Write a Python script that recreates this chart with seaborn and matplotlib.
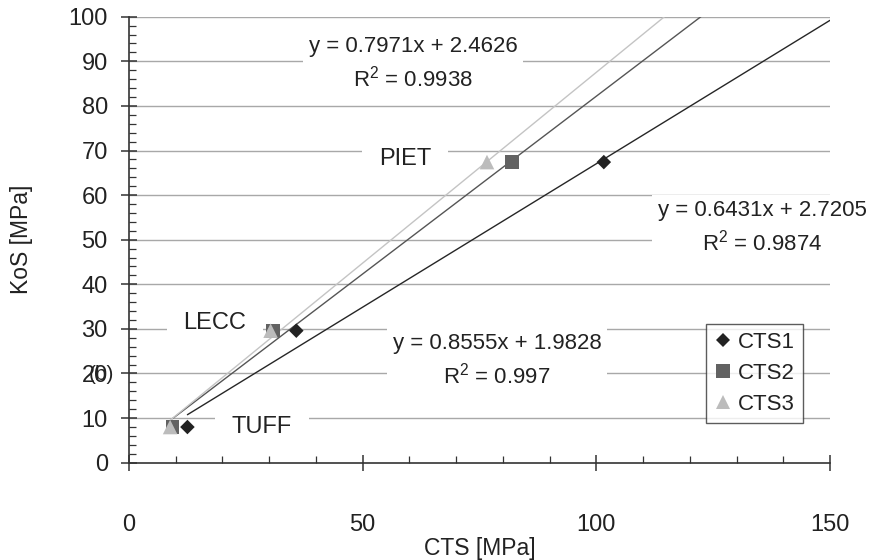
import numpy as np
import pandas as pd
import matplotlib
matplotlib.use("Agg")
import matplotlib.pyplot as plt
import seaborn as sns
from matplotlib.ticker import MultipleLocator
from matplotlib.lines import Line2D

# Rock types and their KoS values
rocks = ["TUFF", "LECC", "PIET"]
kos = [8.0, 29.6, 67.4]

# CTS measurements for each test series
series = ["CTS1", "CTS2", "CTS3"]
cts1 = [12.5, 35.8, 101.6]
cts2 = [9.3, 30.8, 82.0]
cts3 = [8.8, 30.3, 76.6]

# Linear trend coefficients
slopes = [0.6431, 0.7971, 0.8555]
intercepts = [2.7205, 2.4626, 1.9828]
r2 = [0.9874, 0.9938, 0.997]

xticks = [0, 50, 100, 150]
yticks = list(range(0, 101, 10))

marker_colors = {"CTS1": "#222222", "CTS2": "#626262", "CTS3": "#bcbcbc"}
line_colors = {"CTS1": "#262626", "CTS2": "#555555", "CTS3": "#c4c4c4"}
markers = {"CTS1": "D", "CTS2": "s", "CTS3": "^"}
msizes = {"CTS1": 55, "CTS2": 100, "CTS3": 110}

df = pd.DataFrame({
    "rock": rocks * 3,
    "KoS": kos * 3,
    "CTS": cts1 + cts2 + cts3,
    "series": [s for s in series for _ in rocks],
})

sns.set_theme(style="white")
plt.rcParams["font.family"] = ["Liberation Sans", "DejaVu Sans"]
plt.rcParams["mathtext.fontset"] = "custom"
plt.rcParams["mathtext.rm"] = "Liberation Sans"
plt.rcParams["mathtext.it"] = "Liberation Sans:italic"
TXT = "#222222"

fig = plt.figure(figsize=(8.8, 5.6), dpi=100)
W, H = 880, 560
ax = fig.add_axes([129 / W, 1 - 462.7 / H, (830 - 129) / W, (462.7 - 16.7) / H])


def fpos(px, py):
    """Pixel position (from top-left) to figure fraction."""
    return px / W, 1 - py / H


# horizontal gridlines
for yv in yticks[1:]:
    ax.axhline(yv, color="#a8a8a8", lw=1.0, zorder=0)

# trend lines, forecast forward to the chart edge
for s, a, b in zip(series, slopes, intercepts):
    xs0 = df.loc[df.series == s, "CTS"].min()
    tl = pd.DataFrame({"x": [xs0, 150.0]})
    tl["y"] = a * tl["x"] + b
    sns.lineplot(data=tl, x="x", y="y", ax=ax, color=line_colors[s], lw=1.0,
                 zorder=2, legend=False)

# data points
for s in series:
    sub = df[df.series == s]
    sns.scatterplot(data=sub, x="CTS", y="KoS", ax=ax, marker=markers[s],
                    color=marker_colors[s], s=msizes[s], edgecolor="none",
                    linewidth=0, zorder=3, legend=False, clip_on=False)

ax.set_xlim(0, 150)
ax.set_ylim(0, 100)
ax.set_xticks(xticks)
ax.set_yticks(yticks)
ax.xaxis.set_minor_locator(MultipleLocator(10))
ax.yaxis.set_minor_locator(MultipleLocator(2))

for side in ["top", "right"]:
    ax.spines[side].set_visible(False)
for side in ["left", "bottom"]:
    ax.spines[side].set_color("#333333")
    ax.spines[side].set_linewidth(1.2)

ax.tick_params(which="major", direction="inout", length=11.5, width=1.1,
               color="#333333", labelsize=17, labelcolor=TXT)
ax.tick_params(axis="y", which="major", pad=9.5)
ax.tick_params(axis="x", which="major", pad=31)
ax.tick_params(which="minor", direction="in", length=5, width=0.9,
               color="#333333")
ax.tick_params(left=True, bottom=True, which="both")

ax.set_xlabel("CTS [MPa]", fontsize=16.5, color=TXT)
ax.set_ylabel("KoS [MPa]", fontsize=16.5, color=TXT)
ax.xaxis.label.set_va("center")
ax.yaxis.label.set_va("center")
ax.xaxis.set_label_coords(0.5, (462.7 - 548) / 446)
ax.yaxis.set_label_coords((22 - 129) / 701, 0.5)

# panel tag sitting over the y tick labels
fig.text(*fpos(101, 375), "(b)", fontsize=15, color=TXT, ha="center",
         va="center")

# rock labels (white boxes mask the gridlines behind them)
rock_pos = {"PIET": (405, 159), "LECC": (215, 323), "TUFF": (262, 427)}
for name, (px, py) in rock_pos.items():
    ax.text(*fpos(px, py), name, transform=fig.transFigure, fontsize=17,
            color=TXT, ha="center", va="center", zorder=1,
            bbox=dict(boxstyle="square,pad=0.7", fc="white", ec="none"))

# trend equations
eq_pos = {"CTS2": (413, 64), "CTS1": (762, 228), "CTS3": (497, 361)}
for s, a, b, r in zip(series, slopes, intercepts, r2):
    ax.text(*fpos(*eq_pos[s]),
            f"y = {a:.4f}x + {b:.4f}\n$\\mathrm{{R}}^{{2}}$ = {r:g}",
            transform=fig.transFigure, fontsize=16, color=TXT, ha="center",
            va="center", linespacing=1.4, zorder=1,
            bbox=dict(boxstyle="square,pad=0.25", fc="white", ec="none"))

handles = [Line2D([], [], ls="none", marker=markers[s], color=marker_colors[s],
                  markersize=np.sqrt(msizes[s]), markeredgewidth=0)
           for s in series]
leg = fig.legend(handles, series, loc="upper left",
                 bbox_to_anchor=fpos(695, 313), fontsize=16,
                 frameon=True, fancybox=False, borderpad=0.35,
                 handlelength=0.8, handletextpad=0.3, labelspacing=0.45)
leg.get_frame().set_edgecolor("#333333")
leg.get_frame().set_linewidth(1.0)
for t in leg.get_texts():
    t.set_color(TXT)

fig.savefig("out.png", dpi=100)
